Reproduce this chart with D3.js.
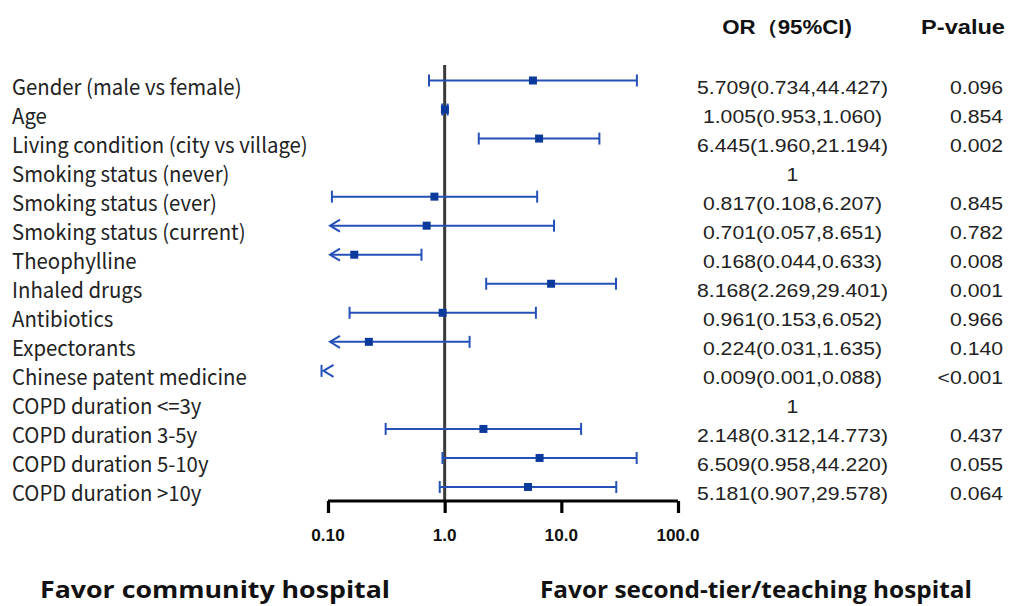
<!DOCTYPE html>
<html><head><meta charset="utf-8">
<script src="https://cdn.jsdelivr.net/npm/d3@7"></script>
<style>body{margin:0;background:#fff}svg{display:block}</style>
</head><body>
<svg id="c" width="1011" height="606"></svg>
<script>
const variables = ["Gender (male vs female)","Age","Living condition (city vs village)","Smoking status (never)","Smoking status (ever)","Smoking status (current)","Theophylline","Inhaled drugs","Antibiotics","Expectorants","Chinese patent medicine","COPD duration <=3y","COPD duration 3-5y","COPD duration 5-10y","COPD duration >10y"];
const oddsRatio = [5.709,1.005,6.445,null,0.817,0.701,0.168,8.168,0.961,0.224,0.009,null,2.148,6.509,5.181];
const lowerCI = [0.734,0.953,1.960,null,0.108,0.057,0.044,2.269,0.153,0.031,0.001,null,0.312,0.958,0.907];
const upperCI = [44.427,1.060,21.194,null,6.207,8.651,0.633,29.401,6.052,1.635,0.088,null,14.773,44.220,29.578];
const orText = ["5.709(0.734,44.427)","1.005(0.953,1.060)","6.445(1.960,21.194)","1","0.817(0.108,6.207)","0.701(0.057,8.651)","0.168(0.044,0.633)","8.168(2.269,29.401)","0.961(0.153,6.052)","0.224(0.031,1.635)","0.009(0.001,0.088)","1","2.148(0.312,14.773)","6.509(0.958,44.220)","5.181(0.907,29.578)"];
const pText = ["0.096","0.854","0.002","","0.845","0.782","0.008","0.001","0.966","0.140","<0.001","","0.437","0.055","0.064"];
const tickValues = [0.1, 1, 10, 100];
const tickLabels = ["0.10","1.0","10.0","100.0"];
const headers = ["OR（95%CI)","P-value"];
const favorLabels = ["Favor community hospital","Favor second-tier/teaching hospital"];

const svg = d3.select("#c");
const x = d3.scaleLog().domain([0.1, 100]).range([328, 678]);
const y = d3.scalePoint().domain(d3.range(variables.length)).range([80.5, 487]);
const lineCol = "#2450b8", boxCol = "#0b3a9c";

function measure(str, font, size, weight) {
  const t = svg.append("text").style("font-family", font).style("font-size", size + "px")
    .style("font-weight", weight).text(str);
  const w = t.node().getComputedTextLength();
  t.remove();
  return w;
}
function stext(g, str, xPos, yPos, anchor, font, size, weight, sx, fill) {
  return g.append("g").attr("transform", `translate(${xPos},${yPos}) scale(${sx},1)`)
    .append("text").attr("x", 0).attr("y", 0).attr("text-anchor", anchor)
    .style("font-family", font).style("font-size", size + "px").style("font-weight", weight)
    .attr("fill", fill || "#222").text(str);
}

// reference line
svg.append("line").attr("x1", x(1)).attr("x2", x(1)).attr("y1", 65).attr("y2", 501)
  .attr("stroke", "#3a3a3a").attr("stroke-width", 3);

// axis
const axis = d3.axisBottom(x).tickValues(tickValues).tickFormat((d, i) => tickLabels[i]).tickSize(12).tickSizeOuter(0);
const ag = svg.append("g").attr("transform", "translate(0,501)").call(axis);
ag.select(".domain").attr("stroke", "#000").attr("stroke-width", 3.2).attr("d", `M${x(0.1)},0H${x(100)}`);
ag.selectAll(".tick line").attr("stroke", "#000").attr("stroke-width", 3.2);
ag.selectAll(".tick text").remove();
const tickSx = 43 / measure("100.0", "Liberation Sans", 17, "bold");
tickValues.forEach((v, i) => {
  stext(svg, tickLabels[i], x(v), 541, "middle", "Liberation Sans", 17, "bold", tickSx, "#111");
});

// CI lines
const g = svg.append("g");
variables.forEach((name, i) => {
  const lo = lowerCI[i], hi = upperCI[i], or = oddsRatio[i];
  const yy = y(i);
  if (lo == null) return;
  const xmin = x(0.1);
  const loOut = lo < 0.1;
  const xHi = x(hi);
  const xLoDraw = loOut ? Math.min(xmin + 2, xHi + 2) : x(lo);
  if (xHi > xLoDraw) {
    g.append("line").attr("x1", xLoDraw).attr("x2", xHi).attr("y1", yy).attr("y2", yy)
      .attr("stroke", lineCol).attr("stroke-width", 2);
  }
  g.append("line").attr("x1", xHi).attr("x2", xHi).attr("y1", yy - 6).attr("y2", yy + 6)
    .attr("stroke", lineCol).attr("stroke-width", 2);
  if (loOut) {
    g.append("path").attr("d", `M${xLoDraw + 10},${yy - 6}L${xLoDraw},${yy}L${xLoDraw + 10},${yy + 6}`)
      .attr("fill", "none").attr("stroke", lineCol).attr("stroke-width", 2);
  } else {
    const xl = x(lo);
    g.append("line").attr("x1", xl).attr("x2", xl).attr("y1", yy - 6).attr("y2", yy + 6)
      .attr("stroke", lineCol).attr("stroke-width", 2);
  }
  if (or >= 0.1) {
    g.append("rect").attr("x", x(or) - 4).attr("y", yy - 4).attr("width", 8).attr("height", 8).attr("fill", boxCol);
  }
});

// left labels
const labSx = 296 / measure("Living condition (city vs village)", "Noto Sans CJK SC", 21, "normal");
variables.forEach((name, i) => {
  stext(svg, name, 12, y(i) + 14, "start", "Noto Sans CJK SC", 21, "normal", labSx, "#222");
});
// OR text
const orSx = 191 / measure("5.709(0.734,44.427)", "Liberation Sans", 18, "normal");
orText.forEach((t, i) => {
  stext(svg, t, 792.5, y(i) + 13, "middle", "Liberation Sans", 18, "normal", orSx, "#222");
});
pText.forEach((t, i) => {
  if (t) stext(svg, t, 1003, y(i) + 13, "end", "Liberation Sans", 18, "normal", orSx, "#222");
});
// headers
const h0 = 130 / measure(headers[0], "Liberation Sans", 20, "bold");
const h1 = 84 / measure(headers[1], "Liberation Sans", 20, "bold");
stext(svg, headers[0], 787, 34, "middle", "Liberation Sans", 20, "bold", h0, "#111");
stext(svg, headers[1], 1005, 34, "end", "Liberation Sans", 20, "bold", h1, "#111");
// favor labels
const f0 = 350 / measure(favorLabels[0], "Open Sans", 23, "700");
const f1 = 432 / measure(favorLabels[1], "Open Sans", 23, "700");
stext(svg, favorLabels[0], 40, 598, "start", "Open Sans", 23, "700", f0, "#111");
stext(svg, favorLabels[1], 540, 598, "start", "Open Sans", 23, "700", f1, "#111");
</script>
</body></html>
